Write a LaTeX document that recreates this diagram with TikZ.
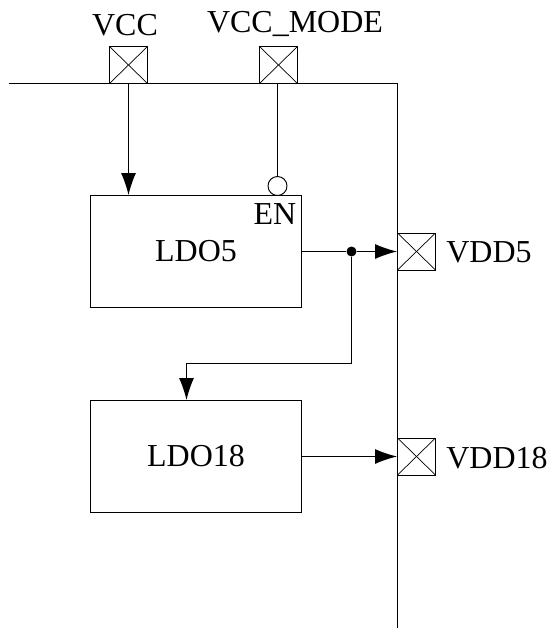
\documentclass[tikz,border=0pt]{standalone}
\usepackage{fontspec}
\setmainfont{Liberation Serif}
\usetikzlibrary{arrows.meta,positioning,calc}

\begin{document}
\begin{tikzpicture}[
    line width=0.55pt,
    pad/.style={draw, minimum width=0.76cm, minimum height=0.74cm, inner sep=0pt,
      path picture={
        \draw[line width=0.4pt] (path picture bounding box.north west) -- (path picture bounding box.south east);
        \draw[line width=0.4pt] (path picture bounding box.south west) -- (path picture bounding box.north east);
      }},
    ldo/.style={draw, minimum width=4.22cm, minimum height=2.24cm, inner sep=0pt},
    inv/.style={draw, circle, minimum size=0.38cm, inner sep=0pt},
    junction/.style={fill, circle, minimum size=0.2cm, inner sep=0pt},
    link/.style={-{Latex[length=0.44cm,width=0.3cm]}},
    every node/.append style={font=\fontsize{18.2}{20}\selectfont}
  ]
    \useasboundingbox (0,0) rectangle (11,-12.58);

    \node[pad] (vcc) at (2.57,-1.30) {};
    \node[pad] (mode) at (5.57,-1.30) {};
    \node[pad] (vdd5) at (8.33,-5.03) {};
    \node[pad] (vdd18) at (8.33,-9.13) {};
    \node[ldo] (ldo5) at (3.92,-5.03) {LDO5};
    \node[ldo] (ldo18) at (3.92,-9.13) {LDO18};
    \node[inv] (enb) at (5.55,-3.72) {};
    \node[junction] (dot) at (7.03,-5.03) {};

    % labels
    \node (vccL) at (2.5,-0.5) {VCC};
    \node (modeL) at (5.9,-0.47) {VCC\_MODE};
    \node (enL) at (5.5,-4.28) {EN};
    \node[right] (vdd5L) at (8.8,-5.05) {VDD5};
    \node[right] (vdd18L) at (8.8,-9.16) {VDD18};

    % bus
    \coordinate (busA) at (0.18,-1.67);
    \coordinate (busB) at (7.95,-1.67);
    \coordinate (busC) at (7.95,-12.56);
    \draw (busA) -- (busB) -- (busC);

    \draw[link] (vcc.south) -- (vcc.south |- ldo5.north);
    \draw (mode.south -| enb) -- (enb.north);
    \draw (ldo5.east) -- (dot);
    \draw[link] (dot) -- (vdd5.west |- dot);
    \coordinate (turn) at (3.73,-7.27);
    \draw[link] (dot) -- (dot |- turn) -- (turn) -- (turn |- ldo18.north);
    \draw[link] (ldo18.east) -- (vdd18.west);
  \end{tikzpicture}
\end{document}
